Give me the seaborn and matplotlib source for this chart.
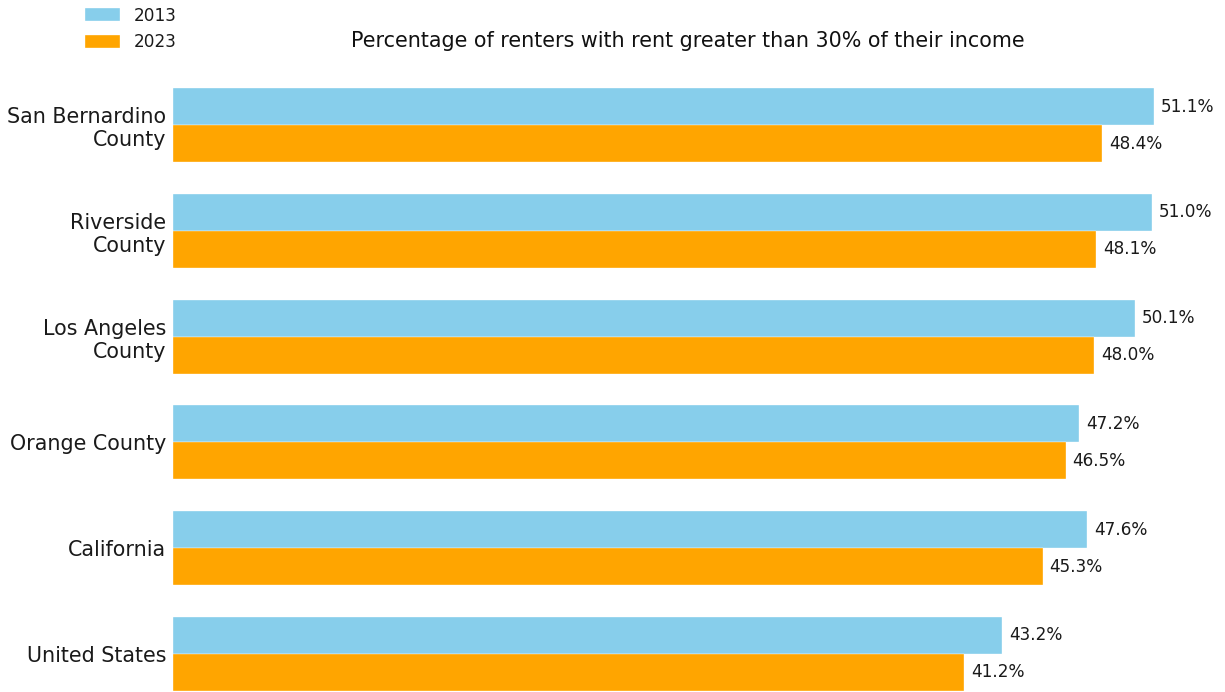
import matplotlib
matplotlib.use("Agg")
import matplotlib.pyplot as plt
import seaborn as sns
import pandas as pd
from matplotlib.patches import Patch

categories = ["San Bernardino\nCounty", "Riverside\nCounty", "Los Angeles\nCounty",
              "Orange County", "California", "United States"]
values_2013 = [51.1, 51.0, 50.1, 47.2, 47.6, 43.2]
values_2023 = [48.4, 48.1, 48.0, 46.5, 45.3, 41.2]
years = ["2013", "2023"]
colors = ["#87CEEB", "#FFA500"]
title = "Percentage of renters with rent greater than 30% of their income"

df = pd.DataFrame({
    "region": categories * 2,
    "value": values_2013 + values_2023,
    "year": [years[0]] * len(categories) + [years[1]] * len(categories),
})

sns.set_style("white")
plt.rcParams["font.family"] = ["DejaVu Sans"]

fig = plt.figure(figsize=(12.25, 6.92), dpi=100)
ax = fig.add_axes([173 / 1225, 0.0, 1030 / 1225, (692 - 87) / 692])

sns.barplot(data=df, y="region", x="value", hue="year", orient="h",
            order=categories, hue_order=years, palette=colors,
            saturation=1, width=0.7, edgecolor="white", linewidth=0.25,
            ax=ax, legend=False, errorbar=None)

for cont in ax.containers:
    ax.bar_label(cont, fmt="%.1f%%", padding=5, fontsize=12.2, color="#1a1a1a")

ax.set_xlim(0, max(values_2013 + values_2023) * 1.05)
ax.set_ylim(5.36, -0.36)
ax.set_xlabel("")
ax.set_ylabel("")
ax.set_xticks([])
ax.tick_params(axis="y", length=0, pad=5, labelsize=14.9, labelcolor="#1a1a1a")
for s in ax.spines.values():
    s.set_visible(False)

handles = [Patch(facecolor=c, edgecolor="white", linewidth=0.25) for c in colors]
fig.legend(handles, years, loc="upper left", bbox_to_anchor=(78 / 1225, 1.0),
           frameon=False, fontsize=12.2, borderaxespad=0, handlelength=2.1,
           handleheight=0.8, labelspacing=0.5, labelcolor="#1a1a1a")

fig.text(688 / 1225, 1 - 41 / 692, title, ha="center", va="center",
         fontsize=14.9, color="#111111")

fig.savefig("out.png", dpi=100)
